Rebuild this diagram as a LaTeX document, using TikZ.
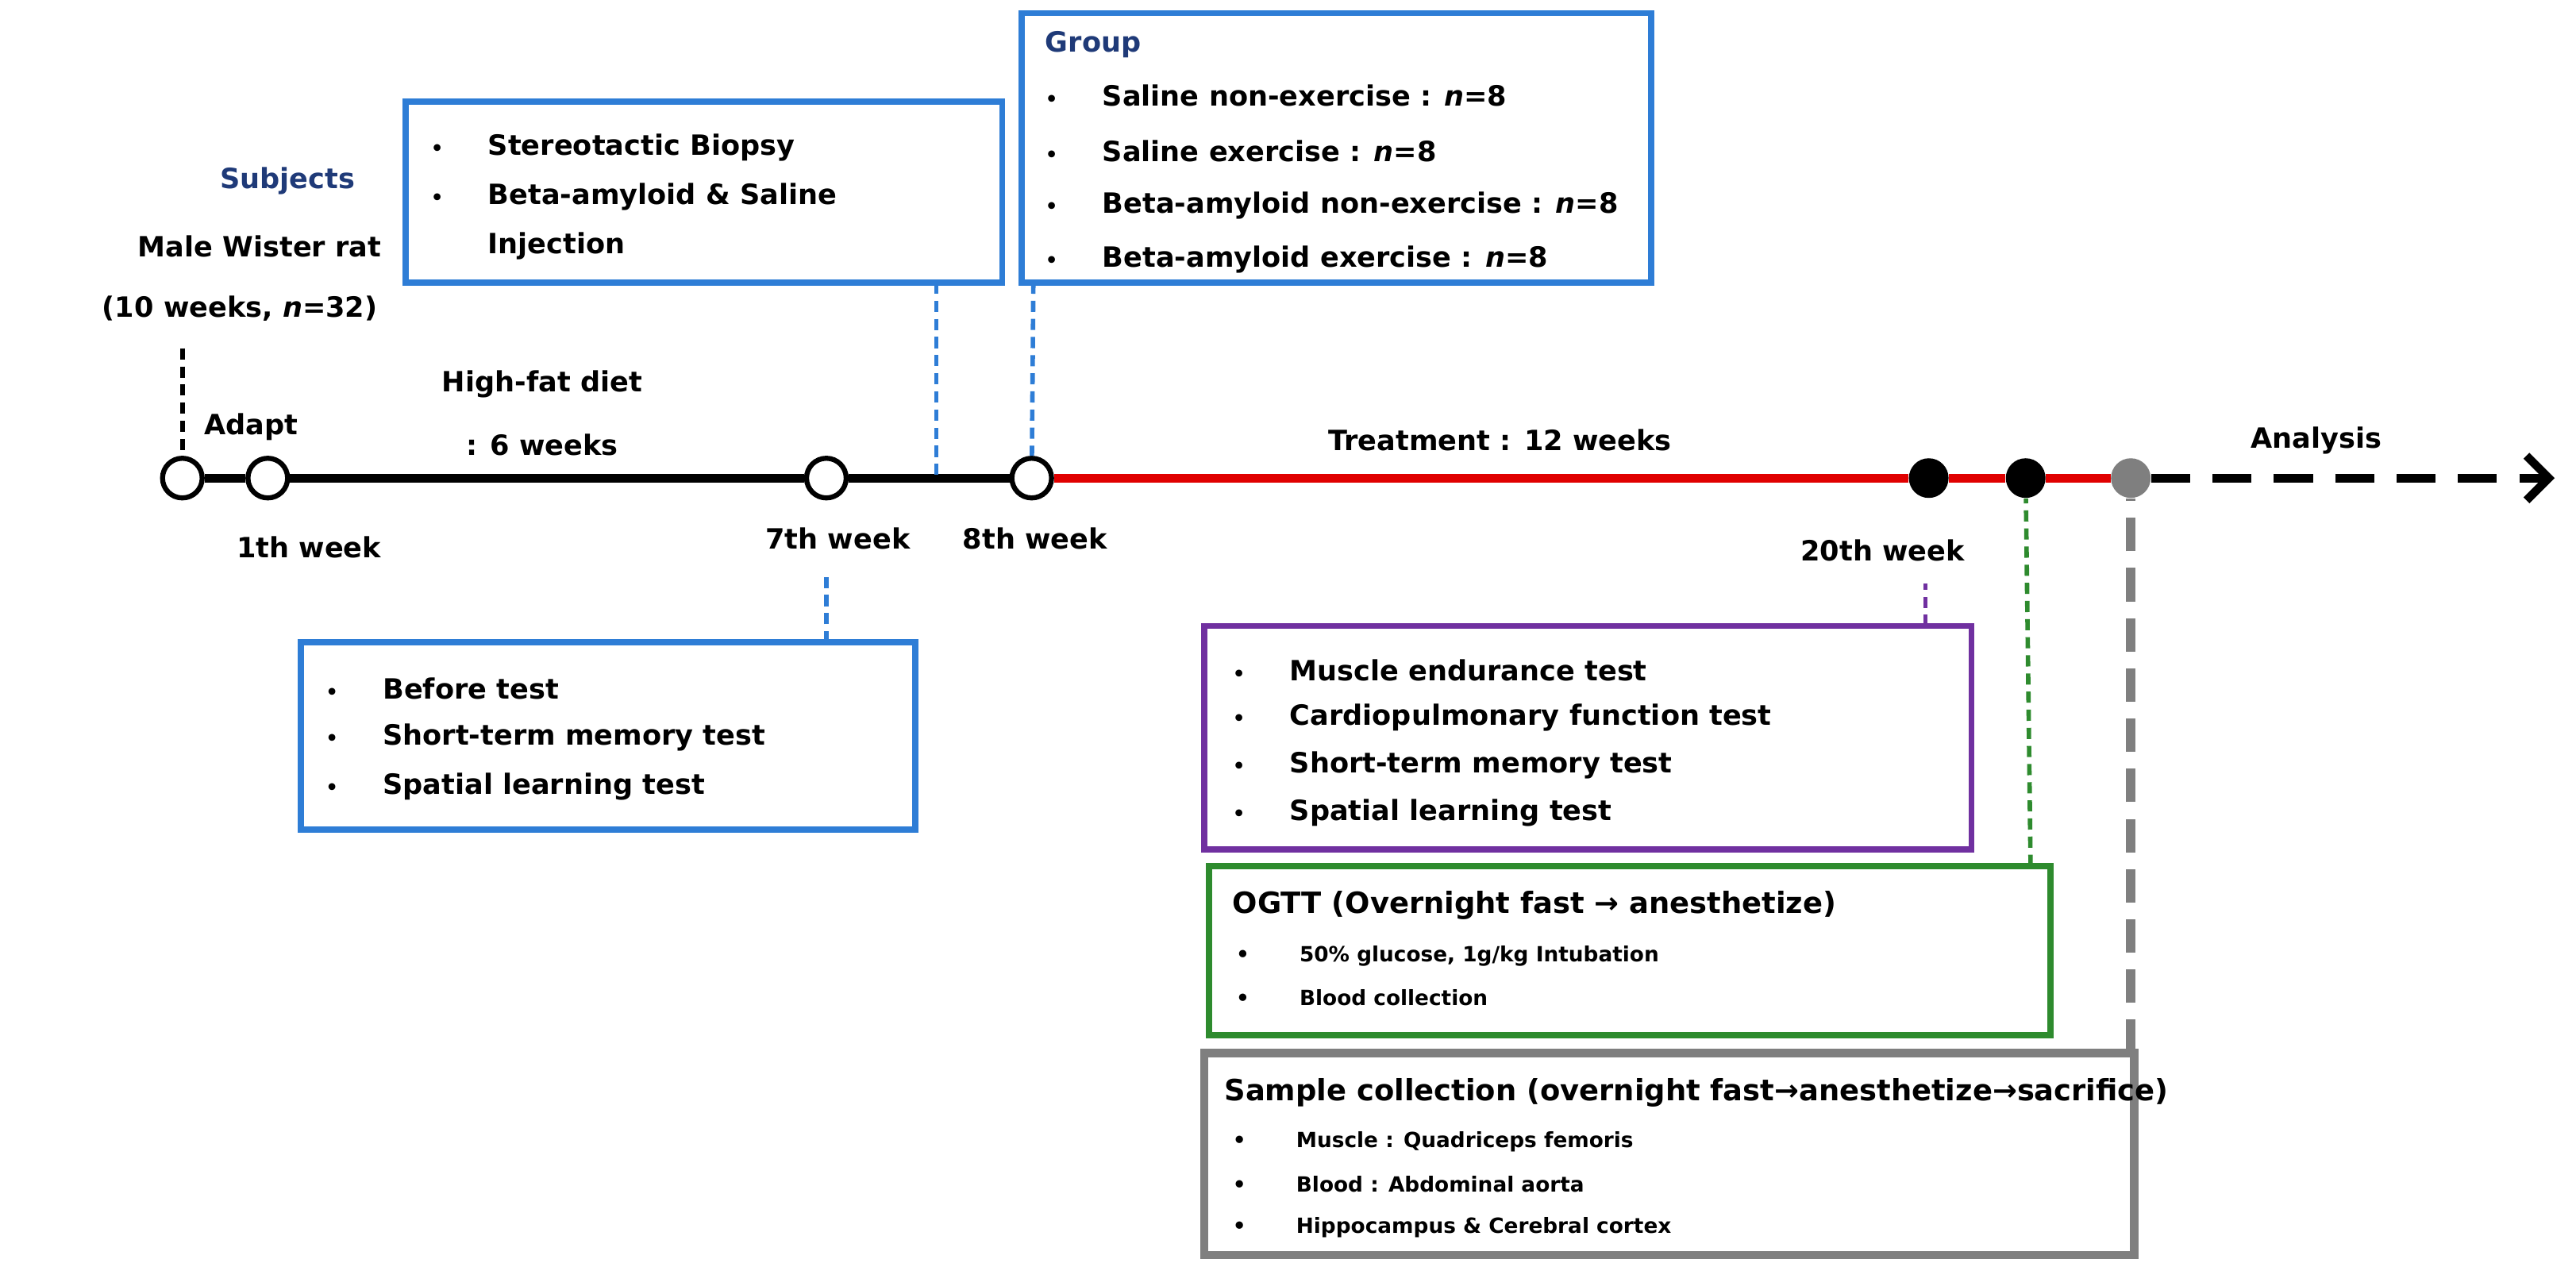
\documentclass[tikz,border=0pt]{standalone}
\usepackage{fontspec}
\setmainfont{DejaVu Sans}
\usetikzlibrary{arrows.meta}
\definecolor{bblue}{HTML}{2E7DD6}
\definecolor{navy}{HTML}{1F3A78}
\definecolor{purp}{HTML}{7030A0}
\definecolor{grn}{HTML}{2E8B2E}
\definecolor{gry}{HTML}{7F7F7F}
\definecolor{tred}{HTML}{E00000}
\newcommand{\bul}{{\fontsize{7}{8}\selectfont•}}
\begin{document}
\begin{tikzpicture}[x=0.0207cm,y=-0.0207cm,
  t/.style={font=\bfseries\fontsize{10}{12}\selectfont,inner sep=0pt},
  s/.style={font=\bfseries\fontsize{7.5}{9}\selectfont,inner sep=0pt},
  h/.style={font=\bfseries\fontsize{10.5}{12}\selectfont,inner sep=0pt},
  box/.style={draw=bblue,line width=2.2pt,fill=white},
  dl/.style={dash pattern=on 4pt off 2.5pt,line width=1.6pt},
  oc/.style={circle,draw=black,line width=1.8pt,fill=white,minimum size=0.5cm,inner sep=0pt},
  fc/.style={circle,fill=black,minimum size=0.5cm,inner sep=0pt}]
\useasboundingbox (0,0) rectangle (1568,771);
% timeline
\node[oc] (c1) at (111,291) {};
\node[oc] (c2) at (163,291) {};
\node[oc] (c3) at (503,291) {};
\node[oc] (c4) at (628,291) {};
\node[fc] (c5) at (1174,291) {};
\node[fc] (c6) at (1233,291) {};
\node[circle,fill=gry,minimum size=0.5cm,inner sep=0pt] (c7) at (1297,291) {};
\coordinate (end) at (1555,291);
\draw[line width=3pt] (c1)--(c2) (c2)--(c3) (c3)--(c4);
\draw[tred,line width=3pt] (c4)--(c5) (c5)--(c6) (c6)--(c7);
\draw[line width=3pt,dash pattern=on 14pt off 8pt,-{Straight Barb[length=8pt,width=16pt]}] (c7)--(end);
% subject labels
\node[t,text=navy] (sub) at (175,110) {Subjects};
\node[t] (m1) at (158,150) {Male Wister rat};
\node[t] (m2) at (146,188) {(10 weeks, \textit{n}=32)};
\coordinate (sd) at (111,212);
\draw[dl] (sd)--(c1);
\node[t] (ad) at (153,260) {Adapt};
\node[t] (hf1) at (330,234) {High-fat diet};
\node[t] (hf2) at (330,271) {: 6 weeks};
\node[t] (w1) at (188,333) {1th week};
\node[t] (w7) at (510,328) {7th week};
\node[t] (w8) at (630,328) {8th week};
\node[t] (w20) at (1146,335) {20th week};
\node[t] (tr) at (913,268) {Treatment : 12 weeks};
\node[t] (an) at (1410,268) {Analysis};
% box 1
\draw[box] (247,62) rectangle (610,172);
\node[t,anchor=west] at (262,90) {\bul\hspace{1.6em}Stereotactic Biopsy};
\node[t,anchor=west] at (262,120) {\bul\hspace{1.6em}Beta-amyloid \& Saline};
\node[t,anchor=west] at (262,150) {\phantom{\bul}\hspace{1.6em}Injection};
\coordinate (b1) at (570,172); \coordinate (b1e) at (570,289);
\draw[dl,bblue] (b1)--(b1e);
% group box
\draw[box] (622,8) rectangle (1005,172);
\node[t,text=navy,anchor=west] at (636,27) {Group};
\node[t,anchor=west] at (636,58) {\bul\hspace{1.6em}Saline non-exercise : \textit{n}=8};
\node[t,anchor=west] at (636,92) {\bul\hspace{1.6em}Saline exercise : \textit{n}=8};
\node[t,anchor=west] at (636,125) {\bul\hspace{1.6em}Beta-amyloid non-exercise : \textit{n}=8};
\node[t,anchor=west] at (636,158) {\bul\hspace{1.6em}Beta-amyloid exercise : \textit{n}=8};
\coordinate (g1) at (629,172);
\draw[dl,bblue] (g1)--(c4);
% before box
\draw[box] (183,391) rectangle (557,505);
\node[t,anchor=west] at (198,419) {\bul\hspace{1.6em}Before test};
\node[t,anchor=west] at (198,449) {\bul\hspace{1.6em}Short-term memory test};
\node[t,anchor=west] at (198,479) {\bul\hspace{1.6em}Spatial learning test};
\coordinate (bt) at (503,391); \coordinate (bt2) at (503,350);
\draw[dl,bblue] (bt)--(bt2);
% purple box
\draw[box,draw=purp] (733,381) rectangle (1200,517);
\node[t,anchor=west] at (750,408) {\bul\hspace{1.6em}Muscle endurance test};
\node[t,anchor=west] at (750,437) {\bul\hspace{1.6em}Cardiopulmonary function test};
\node[t,anchor=west] at (750,466) {\bul\hspace{1.6em}Short-term memory test};
\node[t,anchor=west] at (750,495) {\bul\hspace{1.6em}Spatial learning test};
\coordinate (pt) at (1172,381); \coordinate (pt2) at (1172,355);
\draw[dl,purp] (pt)--(pt2);
% green box
\draw[box,draw=grn] (736,527) rectangle (1248,630);
\node[h,anchor=west] at (750,551) {OGTT (Overnight fast → anesthetize)};
\node[s,anchor=west] at (752,582) {•\hspace{2.4em}50\% glucose, 1g/kg Intubation};
\node[s,anchor=west] at (752,607) {•\hspace{2.4em}Blood collection};
\coordinate (gt) at (1236,527);
\draw[dl,grn] (gt)--(c6);
% gray box
\draw[box,draw=gry,line width=3pt] (733,641) rectangle (1299,764);
\node[h,anchor=west] at (745,665) {Sample collection (overnight fast→anesthetize→sacrifice)};
\node[s,anchor=west] at (750,695) {•\hspace{2.4em}Muscle : Quadriceps femoris};
\node[s,anchor=west] at (750,721) {•\hspace{2.4em}Blood : Abdominal aorta};
\node[s,anchor=west] at (750,747) {•\hspace{2.4em}Hippocampus \& Cerebral cortex};
\coordinate (st) at (1297,641);
\draw[gry,line width=3.5pt,dash pattern=on 12pt off 6pt] (st)--(c7);
\end{tikzpicture}
\end{document}
